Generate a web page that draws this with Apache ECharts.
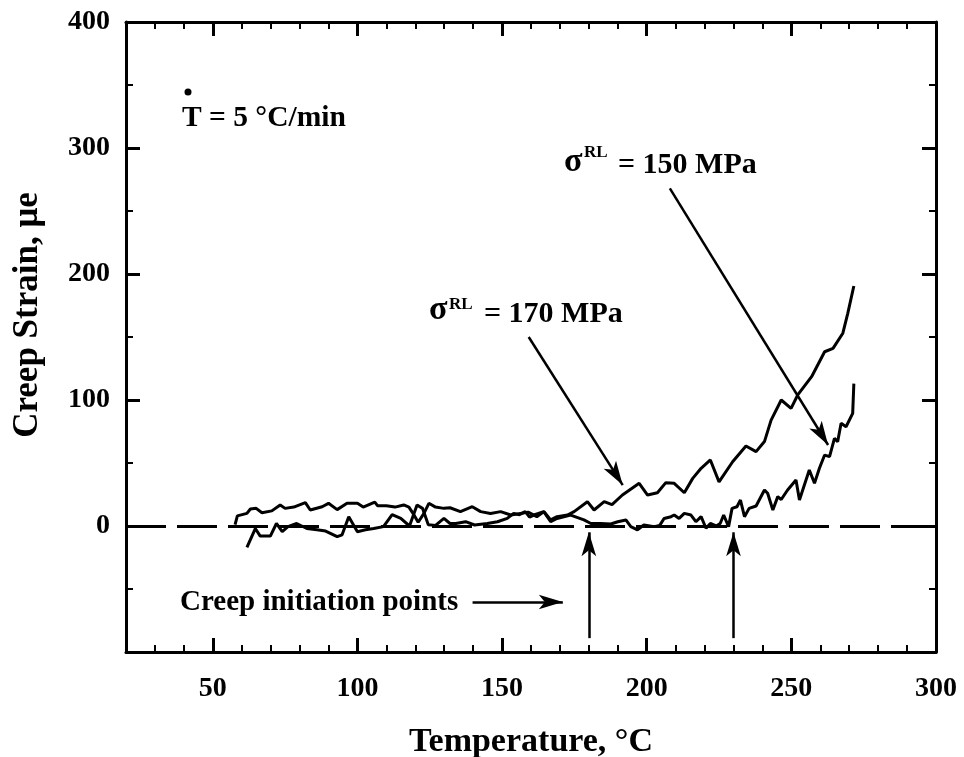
<!DOCTYPE html>
<html>
<head>
<meta charset="utf-8">
<script src="https://cdn.jsdelivr.net/npm/echarts@6/dist/echarts.min.js"></script>
<style>
  html, body { margin: 0; padding: 0; background: #fff; }
  #chart { width: 964px; height: 757px; }
</style>
</head>
<body>
<div id="chart"></div>
<script>
const FONT = '"Liberation Serif", "Times New Roman", Times, serif';

// Creep strain (με) vs temperature (°C), heating rate 5 °C/min
// σRL = 170 MPa
const temp170 = [57.7, 58.5, 61.8, 63, 65, 67, 70.4, 73.3, 75, 78, 82, 83.7, 87.8, 90, 93, 96.4, 100, 102, 106, 107, 110, 113, 116, 117.8, 119.5, 121, 123, 124.7, 127, 129.9, 132, 135.6, 139.7, 142.6, 146, 149.5, 153, 156.4, 159, 162, 164.5, 166.8, 169, 172.6, 174.9, 179.5, 181.8, 185.3, 188, 191.6, 197.4, 200.3, 203.7, 206.6, 209.5, 213, 215.9, 218.8, 222, 225, 229.7, 234.3, 237.8, 240.7, 243, 246.5, 249.9, 252.2, 257, 261.5, 264.4, 267.8, 269.5, 271.6];
const strain170 = [1, 8, 10, 13.5, 14, 10.5, 12, 16.7, 14, 15, 18.5, 12.7, 15.3, 18, 13, 18, 18, 15, 19, 16, 16, 15, 16.7, 15, 9, 3, 10, 18, 15, 14, 14.5, 11.4, 15.3, 11.4, 10, 11.4, 8.7, 10, 11, 7.4, 11.4, 4.8, 7.4, 8.7, 11.4, 19.3, 12.7, 19.3, 17, 24.6, 33.9, 24.6, 26.4, 34.4, 33.9, 26.4, 37.8, 45.8, 52.4, 35, 51, 63.5, 59, 67, 84, 100, 93.4, 104, 118.5, 138.3, 141, 153, 168.8, 190.5];

// σRL = 150 MPa
const temp150 = [61.8, 64.7, 66.4, 69.9, 72, 74, 76, 79, 82.5, 86, 89, 93, 94.7, 97, 100, 102.8, 105.6, 109, 112, 115, 118, 120.6, 122.5, 124.5, 127, 129.9, 132, 134, 137.4, 140.5, 144.9, 148.4, 151.8, 154, 156, 158, 159.5, 161, 164.4, 166.8, 169, 173.7, 178.3, 180.7, 184, 187.6, 190, 192.8, 194.5, 196.8, 199, 202.6, 204.5, 206, 208.4, 209.5, 211.2, 213, 215.3, 217, 218.8, 220.5, 222, 224, 225.4, 226.6, 228.3, 229.5, 231.2, 232.4, 233.8, 235.4, 237.8, 240.7, 241.8, 243.6, 245.3, 246.5, 248.7, 251.6, 252.8, 256.2, 258, 259.7, 261.5, 263.2, 264.9, 266, 267.2, 268.9, 271.2, 271.6];
const strain150 = [-17, -2, -8, -8, 2, -4.5, -0.5, 2, -2, -3, -4, -8.5, -7, 7.4, -4.5, -3, -2, -0.5, 9, 6, 0, 16.7, 14, 1, 0.5, 6, 2, 2, 3.4, 0.8, 2, 3.4, 6, 10, 9, 11.4, 7, 8.7, 11.4, 3.4, 6, 8.7, 4.8, 2, 2, 1.6, 3.4, 4.8, -0.5, -3, 0.8, -0.5, 0.5, 6, 7.4, 8.7, 6, 10, 8.7, 3.4, 7.4, -1.8, 2, 0, 2, 8.7, -0.5, 14, 15.3, 20.6, 7.4, 14, 15.9, 28.6, 26, 12.7, 23.3, 21, 28.6, 36.5, 20.6, 44.4, 33.9, 45.8, 56.3, 55, 69.6, 66.9, 81.5, 78.8, 89.4, 113];

// axis ticks
const xMajorTicks = [50, 100, 150, 200, 250, 300];
const yLabelTicks = [0, 100, 200, 300, 400];

// creep initiation temperatures (°C)
const initiationTemps = [180, 230];

// annotation pointers, [start, end] in data units
const pointer150 = [[208, 268], [262.7, 64.3]];
const pointer170 = [[159.2, 150], [191.7, 32.5]];
const pointerInit = [[139.8, -60.3], [171, -60.3]];
const initArrowFrom = -89;
const initArrowTo = -5;

const zip = (xs, ys) => xs.map((x, i) => [x, ys[i]]);

const BLACK = '#000';
const labelStyle = { color: BLACK, fontFamily: FONT, fontWeight: 'bold', fontSize: 28 };

function xAxisPair(pos) {
  return [
    {
      type: 'value', position: pos, min: 20, max: 300,
      axisLine: { show: true, onZero: false, lineStyle: { color: BLACK, width: 3 } },
      axisTick: { show: true, inside: true, length: 14, customValues: xMajorTicks, lineStyle: { color: BLACK, width: 3 } },
      axisLabel: pos === 'bottom'
        ? Object.assign({ show: true, customValues: xMajorTicks, margin: 23 }, labelStyle)
        : { show: false },
      splitLine: { show: false },
      name: pos === 'bottom' ? 'Temperature, °C' : '',
      nameLocation: 'middle', nameGap: 73,
      nameTextStyle: { color: BLACK, fontFamily: FONT, fontWeight: 'bold', fontSize: 34 }
    },
    {
      type: 'value', position: pos, min: 20, max: 300, interval: 10,
      axisLine: { show: false, onZero: false },
      axisTick: { show: true, inside: true, length: 7, lineStyle: { color: BLACK, width: 2 } },
      axisLabel: { show: false },
      splitLine: { show: false }
    }
  ];
}

function yAxisDef(pos) {
  return {
    type: 'value', position: pos, min: -100, max: 400, interval: 100,
    axisLine: { show: true, onZero: false, lineStyle: { color: BLACK, width: 3 } },
    axisTick: { show: true, inside: true, length: 14, lineStyle: { color: BLACK, width: 3 } },
    minorTick: { show: true, splitNumber: 2, length: 7, lineStyle: { color: BLACK, width: 2 } },
    axisLabel: pos === 'left'
      ? Object.assign({ show: true, customValues: yLabelTicks, margin: 16 }, labelStyle)
      : { show: false },
    splitLine: { show: false },
    minorSplitLine: { show: false },
    name: pos === 'left' ? 'Creep Strain, μe' : '',
    nameLocation: 'middle', nameGap: 81,
    nameTextStyle: { color: BLACK, fontFamily: FONT, fontWeight: 'bold', fontSize: 35, padding: [0, 0, 0, 44] }
  };
}

const arrowLine = (pair) => [{ coord: pair[0] }, { coord: pair[1] }];
const pointerLines = [
  arrowLine(pointer150),
  arrowLine(pointer170),
  arrowLine(pointerInit)
].concat(initiationTemps.map(t => arrowLine([[t, initArrowFrom], [t, initArrowTo]])));

const chart = echarts.init(document.getElementById('chart'), null, { renderer: 'canvas' });

chart.setOption({
  backgroundColor: '#fff',
  animation: false,
  grid: { left: 126, right: 28, top: 22, bottom: 105, containLabel: false, outerBoundsMode: 'none' },
  xAxis: xAxisPair('bottom').concat(xAxisPair('top')),
  yAxis: [yAxisDef('left'), yAxisDef('right')],
  series: [
    {
      name: 'σRL = 170 MPa', type: 'line', xAxisIndex: 0, yAxisIndex: 0,
      data: zip(temp170, strain170), showSymbol: false, symbol: 'none',
      lineStyle: { color: BLACK, width: 3 }, z: 3,
      markLine: {
        silent: true, symbol: 'none', label: { show: false },
        lineStyle: { color: BLACK, width: 3, type: [40, 11] },
        data: [{ yAxis: 0 }]
      }
    },
    {
      name: 'σRL = 150 MPa', type: 'line', xAxisIndex: 0, yAxisIndex: 0,
      data: zip(temp150, strain150), showSymbol: false, symbol: 'none',
      lineStyle: { color: BLACK, width: 3 }, z: 3,
      markLine: {
        silent: true, symbol: ['none', 'arrow'], symbolSize: [11, 24],
        label: { show: false },
        itemStyle: { color: BLACK },
        lineStyle: { color: BLACK, width: 2.5, type: 'solid' },
        data: pointerLines
      }
    }
  ],
  graphic: [
    { type: 'circle', shape: { cx: 188, cy: 92, r: 3.5 }, style: { fill: BLACK } },
    { type: 'text', style: { text: 'T = 5 °C/min', x: 182, y: 118, font: 'bold 29.5px ' + FONT, fill: BLACK, textAlign: 'left', textVerticalAlign: 'middle' } },
    { type: 'text', style: { text: 'σ', x: 564, y: 162, font: 'bold 34px ' + FONT, fill: BLACK, textAlign: 'left', textVerticalAlign: 'middle' } },
    { type: 'text', style: { text: 'RL', x: 584, y: 153, font: 'bold 17px ' + FONT, fill: BLACK, textAlign: 'left', textVerticalAlign: 'middle' } },
    { type: 'text', style: { text: '= 150 MPa', x: 618, y: 165, font: 'bold 30px ' + FONT, fill: BLACK, textAlign: 'left', textVerticalAlign: 'middle' } },
    { type: 'text', style: { text: 'σ', x: 429, y: 310, font: 'bold 34px ' + FONT, fill: BLACK, textAlign: 'left', textVerticalAlign: 'middle' } },
    { type: 'text', style: { text: 'RL', x: 449, y: 305, font: 'bold 17px ' + FONT, fill: BLACK, textAlign: 'left', textVerticalAlign: 'middle' } },
    { type: 'text', style: { text: '= 170 MPa', x: 484, y: 314, font: 'bold 30px ' + FONT, fill: BLACK, textAlign: 'left', textVerticalAlign: 'middle' } },
    { type: 'text', style: { text: 'Creep initiation points', x: 180, y: 603, font: 'bold 29px ' + FONT, fill: BLACK, textAlign: 'left', textVerticalAlign: 'middle' } }
  ]
});
</script>
</body>
</html>
